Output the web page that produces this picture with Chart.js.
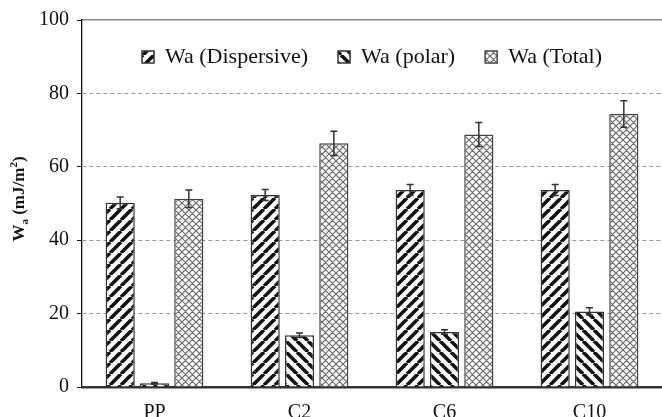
<!DOCTYPE html>
<html>
<head>
<meta charset="utf-8">
<script src="https://cdn.jsdelivr.net/npm/chart.js@4"></script>
<style>
  html, body { margin: 0; padding: 0; background: #fff; }
  #wrap { width: 662px; height: 417px; position: relative; }
</style>
</head>
<body>
<div id="wrap"><canvas id="wa-chart"></canvas></div>
<script>
// data
const categories = ['PP', 'C2', 'C6', 'C10'];
const dispersive = [50.2, 52.3, 53.7, 53.7];
const dispersiveErr = [1.6, 1.5, 1.5, 1.5];
const polar = [1.0, 14.1, 15.0, 20.6];
const polarErr = [0.2, 0.6, 0.6, 1.0];
const total = [51.3, 66.4, 68.8, 74.4];
const totalErr = [2.4, 3.3, 3.3, 3.6];
const yTicks = [0, 20, 40, 60, 80, 100];

const serif = '"Liberation Serif", "Times New Roman", serif';
const canvas = document.getElementById('wa-chart');
const ctx = canvas.getContext('2d');

// hatch fills
function stripes(dir) {
    const s = 11;
    const c = document.createElement('canvas');
    c.width = s; c.height = s;
    const g = c.getContext('2d');
    g.fillStyle = '#fff';
    g.fillRect(0, 0, s, s);
    g.strokeStyle = '#111';
    g.lineWidth = 3.6;
    g.beginPath();
    for (let k = -1; k <= 1; k++) {
        if (dir > 0) { g.moveTo(k * s, s); g.lineTo(k * s + s, 0); }
        else { g.moveTo(k * s, 0); g.lineTo(k * s + s, s); }
    }
    g.stroke();
    return ctx.createPattern(c, 'repeat');
}

function crosshatch() {
    const s = 7;
    const c = document.createElement('canvas');
    c.width = s; c.height = s;
    const g = c.getContext('2d');
    g.fillStyle = '#fff';
    g.fillRect(0, 0, s, s);
    g.strokeStyle = '#6a6a6a';
    g.lineWidth = 1.2;
    g.beginPath();
    for (let k = -1; k <= 1; k++) {
        g.moveTo(k * s, s); g.lineTo(k * s + s, 0);
        g.moveTo(k * s, 0); g.lineTo(k * s + s, s);
    }
    g.stroke();
    return ctx.createPattern(c, 'repeat');
}

// error bars from the y scale
const errorBars = {
    id: 'errorBars',
    afterDatasetsDraw(chart) {
        const c = chart.ctx, y = chart.scales.y;
        c.save();
        c.strokeStyle = '#333';
        c.lineWidth = 1.5;
        chart.data.datasets.forEach((ds, i) => {
            chart.getDatasetMeta(i).data.forEach((bar, j) => {
                const v = ds.data[j], e = ds.errors[j];
                const t = y.getPixelForValue(v + e), b = y.getPixelForValue(v - e);
                c.beginPath();
                c.moveTo(bar.x, t); c.lineTo(bar.x, b);
                c.moveTo(bar.x - 3.5, t); c.lineTo(bar.x + 3.5, t);
                c.moveTo(bar.x - 3.5, b); c.lineTo(bar.x + 3.5, b);
                c.stroke();
            });
        });
        c.restore();
    }
};

// legend sits inside the plot area
const LEGEND_TOP = 16;
const legendInside = {
    id: 'legendInside',
    afterInit(chart) {
        const lg = chart.legend;
        if (!lg) return;
        const fit = lg.fit;
        lg.fit = function () { fit.call(this); this.fullH = this.height; this.height = 0; };
    },
    afterLayout(chart) {
        const lg = chart.legend, a = chart.chartArea;
        if (!lg) return;
        lg.left = a.left; lg.right = a.right; lg.width = a.right - a.left;
        lg.top = LEGEND_TOP; lg.height = lg.fullH; lg.bottom = lg.top + lg.fullH;
    }
};

// y title with subscript / superscript
const yTitle = {
    id: 'yTitle',
    afterDraw(chart) {
        const c = chart.ctx;
        const big = 'bold 17px ' + serif, small = 'bold 11px ' + serif;
        const parts = [['W', big, 0], ['a', small, 4], [' (mJ/m', big, 0], ['2', small, -7], [')', big, 0]];
        c.save();
        let w = 0;
        parts.forEach(p => { c.font = p[1]; w += c.measureText(p[0]).width; });
        c.translate(24, 199);
        c.rotate(-Math.PI / 2);
        c.fillStyle = '#111';
        c.textBaseline = 'alphabetic';
        let x = -w / 2;
        parts.forEach(p => {
            c.font = p[1];
            c.fillText(p[0], x, p[2]);
            x += c.measureText(p[0]).width;
        });
        c.restore();
    }
};

new Chart(canvas, {
    type: 'bar',
    data: {
        labels: categories,
        datasets: [{
            label: 'Wa (Dispersive)',
            data: dispersive,
            errors: dispersiveErr,
            backgroundColor: stripes(1),
            borderColor: '#333',
            borderWidth: 1.5
        }, {
            label: 'Wa (polar)',
            data: polar,
            errors: polarErr,
            backgroundColor: stripes(-1),
            borderColor: '#333',
            borderWidth: 1.5
        }, {
            label: 'Wa (Total)',
            data: total,
            errors: totalErr,
            backgroundColor: crosshatch(),
            borderColor: '#444',
            borderWidth: 1.5
        }]
    },
    options: {
        responsive: true,
        maintainAspectRatio: false,
        animation: false,
        layout: { padding: { top: 20, right: 0, left: 0, bottom: 0 } },
        datasets: {
            bar: { categoryPercentage: 0.71, barPercentage: 0.85 }
        },
        plugins: {
            legend: {
                position: 'top',
                labels: {
                    font: { family: serif, size: 22 },
                    color: '#111',
                    boxWidth: 12,
                    boxHeight: 12,
                    padding: 30
                }
            },
            tooltip: { enabled: false }
        },
        scales: {
            x: {
                grid: { display: false },
                border: { color: '#333', width: 2.5 },
                ticks: { font: { family: serif, size: 20 }, color: '#111', padding: 6 },
                afterFit(s) { s.height = 30; }
            },
            x2: {
                type: 'category',
                position: 'top',
                grid: { display: false, drawTicks: false },
                ticks: { display: false },
                border: { color: '#8a8a8a', width: 1.5 },
                afterFit(s) { s.height = 0; }
            },
            y: {
                min: 0,
                max: 100,
                afterBuildTicks(s) { s.ticks = yTicks.map(v => ({ value: v })); },
                grid: {
                    color: c => (c.tick && (c.tick.value === 0 || c.tick.value === 100)) ? 'rgba(0,0,0,0)' : '#9a9a9a',
                    lineWidth: 1,
                    tickColor: '#111',
                    tickLength: 5
                },
                border: { color: '#111', width: 1.3, dash: [4, 3] },
                ticks: { font: { family: serif, size: 20 }, color: '#111', padding: 8 },
                afterFit(s) { s.width = 82; }
            }
        }
    },
    plugins: [errorBars, legendInside, yTitle]
});
</script>
</body>
</html>
